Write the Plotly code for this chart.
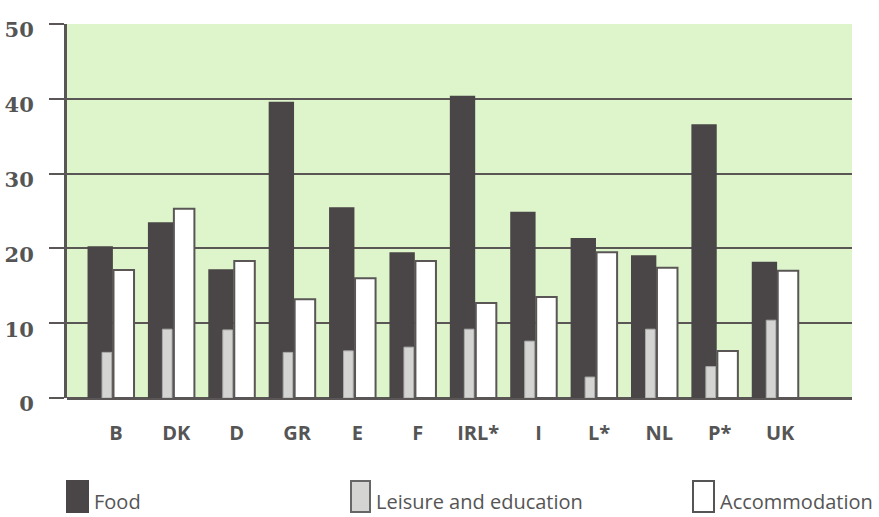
import plotly.graph_objects as go

categories = ["B", "DK", "D", "GR", "E", "F", "IRL*", "I", "L*", "NL", "P*", "UK"]
food = [20.3, 23.5, 17.2, 39.6, 25.5, 19.5, 40.4, 24.9, 21.4, 19.1, 36.6, 18.2]
leisure = [6.1, 9.2, 9.1, 6.1, 6.3, 6.8, 9.2, 7.6, 2.8, 9.2, 4.2, 10.4]
accommodation = [17.1, 25.3, 18.3, 13.2, 16.0, 18.3, 12.7, 13.5, 19.5, 17.4, 6.3, 17.0]
y_ticks = [0, 10, 20, 30, 40, 50]
legend_labels = ["Food", "Leisure and education", "Accommodation"]

DARK = "#4a4546"
GRID = "#5a5656"

fig = go.Figure()
fig.add_trace(go.Bar(x=categories, y=food, name=legend_labels[0], width=0.42, offset=-0.47,
                     marker=dict(color=DARK, line=dict(width=0))))
fig.add_trace(go.Bar(x=categories, y=leisure, name=legend_labels[1], width=0.16, offset=-0.23,
                     marker=dict(color="#d4d4d2", line=dict(width=1, color="#aaaaaa"))))
fig.add_trace(go.Bar(x=categories, y=accommodation, name=legend_labels[2], width=0.34, offset=-0.04,
                     marker=dict(color="#ffffff", line=dict(width=2, color=GRID))))

fig.update_layout(
    width=879, height=517,
    margin=dict(l=67, r=27, t=24, b=119, autoexpand=False),
    barmode="overlay",
    showlegend=False,
    paper_bgcolor="#ffffff",
    plot_bgcolor="#def5cc",
    xaxis=dict(
        type="category",
        range=[-0.81, 12.19],
        automargin=False,
        showgrid=False, showline=False, ticks="",
        tickfont=dict(family="Open Sans", size=20, color="#555", weight="bold"),
        ticklabelstandoff=21,
    ),
    yaxis=dict(
        range=[0, 50], tickvals=y_ticks,
        automargin=False,
        showgrid=True, gridcolor=GRID, gridwidth=2,
        showline=True, linecolor=GRID, linewidth=3,
        ticks="outside", ticklen=15, tickwidth=2, tickcolor=GRID,
        tickfont=dict(family="DejaVu Serif", size=21, color="#555", weight="bold"),
        ticklabelstandoff=11, ticklabelshift=6,
        zeroline=True, zerolinecolor=GRID, zerolinewidth=3,
    ),
)

# legend drawn manually
swatches = [
    (67, 88, DARK, DARK, 92),
    (351, 370, "#d4d4d2", "#666", 374),
    (693, 714, "#ffffff", "#555", 718),
]
for (x0, x1, fill, line, tx), lab in zip(swatches, legend_labels):
    fig.add_shape(type="rect", xref="paper", yref="paper",
                  x0=(x0 - 67) / 785, x1=(x1 - 67) / 785,
                  y0=(398 - 512) / 374, y1=(398 - 481) / 374,
                  fillcolor=fill, line=dict(color=line, width=2))
    fig.add_annotation(xref="paper", yref="paper", x=(tx - 67) / 785, y=(398 - 501) / 374,
                       text=lab, showarrow=False, xanchor="left", yanchor="middle",
                       font=dict(family="Open Sans", size=20, color="#555"))

fig.write_html("out.html")
